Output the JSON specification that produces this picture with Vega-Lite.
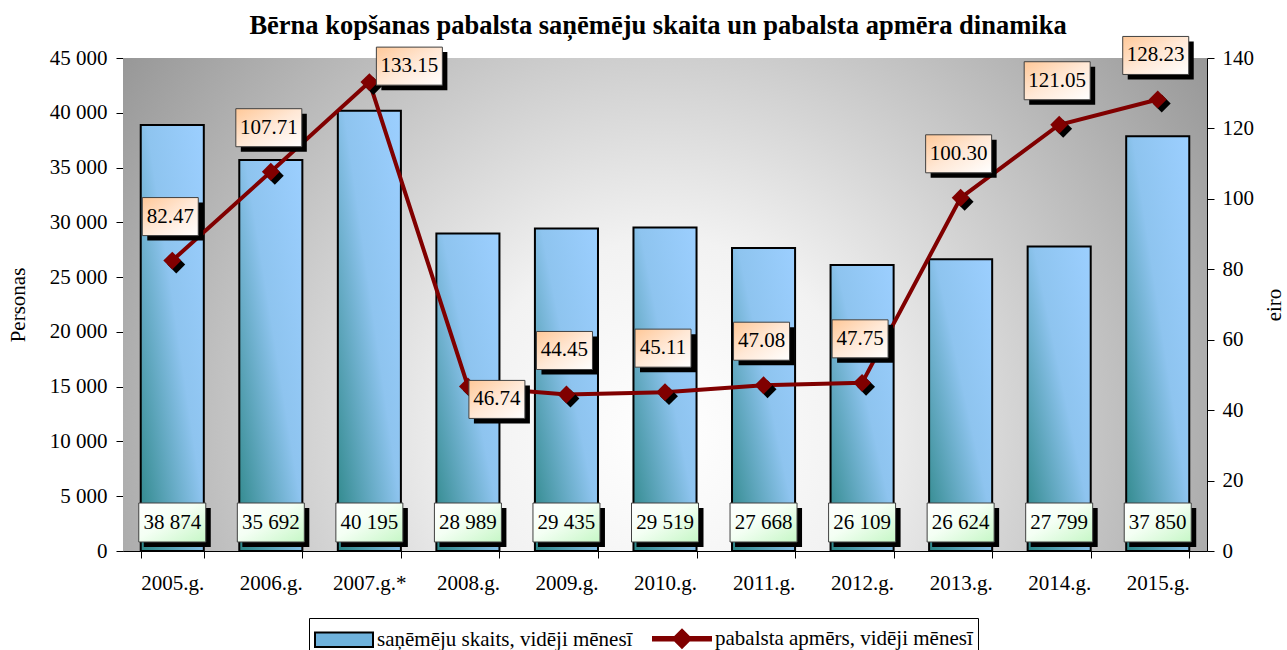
{
  "$schema": "https://vega.github.io/schema/vega-lite/v6.json",
  "width": 1084,
  "height": 493,
  "autosize": {"type": "none"},
  "padding": {"left": 123, "top": 58, "right": 80, "bottom": 99},
  "background": "white",
  "title": {
    "text": "Bērna kopšanas pabalsta saņēmēju skaita un pabalsta apmēra dinamika",
    "font": "Times New Roman, Liberation Serif, serif",
    "fontSize": 26.5,
    "fontWeight": "bold",
    "color": "black",
    "anchor": "middle",
    "frame": "group",
    "offset": 22,
    "dy": 27,
    "dx": -7
  },
  "config": {
    "locale": {"number": {"decimal": ".", "thousands": " ", "grouping": [3], "currency": ["", ""]}},
    "view": {"stroke": null},
    "axis": {
      "labelFont": "Times New Roman, Liberation Serif, serif",
      "labelFontSize": 21,
      "labelColor": "black",
      "titleFont": "Times New Roman, Liberation Serif, serif",
      "titleFontSize": 21,
      "titleFontWeight": "normal",
      "titleColor": "black",
      "domainColor": "black",
      "tickColor": "black",
      "tickSize": 7,
      "grid": false
    },
    "legend": {
      "orient": "none",
      "legendX": 186,
      "legendY": 560,
      "direction": "horizontal",
      "strokeColor": "black",
      "fillColor": "white",
      "padding": 5,
      "symbolSize": 841,
      "symbolStrokeWidth": 2,
      "symbolOpacity": 1,
      "labelFont": "Times New Roman, Liberation Serif, serif",
      "labelFontSize": 21,
      "labelColor": "black",
      "labelLimit": 500,
      "labelOffset": 32,
      "columnPadding": 16
    }
  },
  "datasets": {
    "rows": [
      {"year": "2005.g.", "persons": 38874, "amount": 82.47},
      {"year": "2006.g.", "persons": 35692, "amount": 107.71},
      {"year": "2007.g.*", "persons": 40195, "amount": 133.15},
      {"year": "2008.g.", "persons": 28989, "amount": 46.74},
      {"year": "2009.g.", "persons": 29435, "amount": 44.45},
      {"year": "2010.g.", "persons": 29519, "amount": 45.11},
      {"year": "2011.g.", "persons": 27668, "amount": 47.08},
      {"year": "2012.g.", "persons": 26109, "amount": 47.75},
      {"year": "2013.g.", "persons": 26624, "amount": 100.30},
      {"year": "2014.g.", "persons": 27799, "amount": 121.05},
      {"year": "2015.g.", "persons": 37850, "amount": 128.23}
    ],
    "bg": [{"panel": "plot"}]
  },
  "layer": [
    {
      "data": {"name": "bg"},
      "mark": {
        "type": "rect",
        "fill": {
          "gradient": "radial",
          "x1": 0.5, "y1": 0.62, "r1": 0,
          "x2": 0.5, "y2": 0.62, "r2": 0.72,
          "stops": [
            {"offset": 0, "color": "#ffffff"},
            {"offset": 0.25, "color": "#f2f2f2"},
            {"offset": 1, "color": "#808080"}
          ]
        }
      },
      "encoding": {}
    },
    {
      "data": {"name": "rows"},
      "encoding": {
        "x": {
          "field": "year",
          "type": "nominal",
          "sort": null,
          "scale": {"paddingInner": 0.36, "paddingOuter": 0.18},
          "axis": {"title": null, "labelAngle": 0, "labelPadding": 14, "tickBand": "extent"}
        }
      },
      "layer": [
        {
          "mark": {"type": "point", "opacity": 0},
          "encoding": {
            "y": {"field": "persons", "type": "quantitative"},
            "fill": {
              "datum": "saņēmēju skaits, vidēji mēnesī",
              "scale": {"domain": ["saņēmēju skaits, vidēji mēnesī", "pabalsta apmērs, vidēji mēnesī"], "range": ["#6fb2dc", "#800000"]},
              "legend": {"title": null}
            },
            "stroke": {
              "datum": "saņēmēju skaits, vidēji mēnesī",
              "scale": {"domain": ["saņēmēju skaits, vidēji mēnesī", "pabalsta apmērs, vidēji mēnesī"], "range": ["black", "#800000"]},
              "legend": {"title": null}
            },
            "shape": {
              "datum": "saņēmēju skaits, vidēji mēnesī",
              "scale": {"domain": ["saņēmēju skaits, vidēji mēnesī", "pabalsta apmērs, vidēji mēnesī"], "range": ["M-1,-0.5H3V0.5H-1Z", "M-1,-0.12H0.5L1,-0.62L1.5,-0.12H3V0.12H1.5L1,0.62L0.5,0.12H-1Z"]},
              "legend": {"title": null}
            }
          }
        },
        {
          "mark": {
            "type": "bar",
            "fill": {"gradient": "linear", "x1": 1, "y1": 0, "x2": 0, "y2": 1, "stops": [{"offset": 0, "color": "#9ccfff"}, {"offset": 0.45, "color": "#8ec4ef"}, {"offset": 1, "color": "#2a8585"}]},
            "stroke": "black",
            "strokeWidth": 2
          },
          "encoding": {
            "y": {
              "field": "persons",
              "type": "quantitative",
              "scale": {"domain": [0, 45000], "nice": false},
              "axis": {
                "orient": "left",
                "title": "Personas",
                "values": [0, 5000, 10000, 15000, 20000, 25000, 30000, 35000, 40000, 45000],
                "format": ",d",
                "labelPadding": 9,
                "titlePadding": 21
              }
            }
          }
        },
        {
          "mark": {"type": "point", "shape": "M-1,-0.582H1V0.582H-1Z", "size": 4489, "filled": true, "fill": "black", "opacity": 1, "strokeWidth": 0, "xOffset": 5, "yOffset": -23.5},
          "encoding": {"y": {"datum": 0, "type": "quantitative"}}
        },
        {
          "mark": {
            "type": "point", "shape": "M-1,-0.582H1V0.582H-1Z", "size": 4489, "filled": true, "opacity": 1,
            "fill": {"gradient": "linear", "x1": 0, "y1": 0, "x2": 1, "y2": 1, "stops": [{"offset": 0, "color": "#ffffff"}, {"offset": 0.45, "color": "#f4fff4"}, {"offset": 1, "color": "#c6f7c6"}]},
            "stroke": "#404040", "strokeWidth": 1, "yOffset": -28.5
          },
          "encoding": {"y": {"datum": 0, "type": "quantitative"}}
        },
        {
          "mark": {"type": "text", "font": "Times New Roman, Liberation Serif, serif", "fontSize": 21, "color": "black", "baseline": "middle", "dy": -28.5},
          "encoding": {
            "y": {"datum": 0, "type": "quantitative"},
            "text": {"field": "persons", "type": "quantitative", "format": ",d"}
          }
        }
      ]
    },
    {
      "data": {"name": "rows"},
      "encoding": {
        "x": {"field": "year", "type": "nominal", "sort": null}
      },
      "layer": [
        {
          "mark": {"type": "point", "opacity": 0},
          "encoding": {
            "y": {"field": "amount", "type": "quantitative"},
            "fill": {"datum": "pabalsta apmērs, vidēji mēnesī", "legend": {"title": null}},
            "stroke": {"datum": "pabalsta apmērs, vidēji mēnesī", "legend": {"title": null}},
            "shape": {"datum": "pabalsta apmērs, vidēji mēnesī", "legend": {"title": null}}
          }
        },
        {
          "mark": {"type": "line", "strokeWidth": 4, "color": "#800000"},
          "encoding": {
            "y": {
              "field": "amount",
              "type": "quantitative",
              "scale": {"domain": [0, 140], "nice": false},
              "axis": {
                "orient": "right",
                "title": "eiro",
                "titleAngle": 270,
                "values": [0, 20, 40, 60, 80, 100, 120, 140],
                "format": "d",
                "labelPadding": 8,
                "titlePadding": 31
              }
            }
          }
        },
        {
          "mark": {"type": "point", "shape": "diamond", "size": 320, "filled": true, "fill": "black", "opacity": 1, "strokeWidth": 0, "xOffset": 4, "yOffset": 4},
          "encoding": {"y": {"field": "amount", "type": "quantitative"}}
        },
        {
          "mark": {"type": "point", "shape": "diamond", "size": 320, "filled": true, "fill": "#800000", "opacity": 1, "strokeWidth": 0},
          "encoding": {"y": {"field": "amount", "type": "quantitative"}}
        },
        {
          "transform": [{"filter": "datum.year !== '2007.g.*' && datum.year !== '2008.g.'"}],
          "layer": [
            {
              "mark": {"type": "point", "filled": true, "fill": "black", "opacity": 1, "strokeWidth": 0, "xOffset": 3, "yOffset": -39},
              "encoding": {
                "y": {"field": "amount", "type": "quantitative"},
                "shape": {"condition": {"test": "datum.amount >= 100", "value": "M-1,-0.576H1V0.576H-1Z"}, "value": "M-1,-0.679H1V0.679H-1Z"},
                "size": {"condition": {"test": "datum.amount >= 100", "value": 4356}, "value": 3136}
              }
            },
            {
              "mark": {
                "type": "point", "filled": true, "opacity": 1,
                "fill": {"gradient": "linear", "x1": 0, "y1": 0, "x2": 1, "y2": 1, "stops": [{"offset": 0, "color": "#ffc898"}, {"offset": 0.5, "color": "#ffe8d6"}, {"offset": 1, "color": "#ffffff"}]},
                "stroke": "#404040", "strokeWidth": 1, "xOffset": -2, "yOffset": -44
              },
              "encoding": {
                "y": {"field": "amount", "type": "quantitative"},
                "shape": {"condition": {"test": "datum.amount >= 100", "value": "M-1,-0.576H1V0.576H-1Z"}, "value": "M-1,-0.679H1V0.679H-1Z"},
                "size": {"condition": {"test": "datum.amount >= 100", "value": 4356}, "value": 3136}
              }
            },
            {
              "mark": {"type": "text", "font": "Times New Roman, Liberation Serif, serif", "fontSize": 21, "color": "black", "baseline": "middle", "dx": -2, "dy": -44},
              "encoding": {
                "y": {"field": "amount", "type": "quantitative"},
                "text": {"field": "amount", "type": "quantitative", "format": ".2f"}
              }
            }
          ]
        },
        {
          "transform": [{"filter": "datum.year === '2007.g.*'"}],
          "layer": [
            {
              "mark": {"type": "point", "filled": true, "fill": "black", "opacity": 1, "strokeWidth": 0, "shape": "M-1,-0.576H1V0.576H-1Z", "size": 4356, "xOffset": 45, "yOffset": -11},
              "encoding": {"y": {"field": "amount", "type": "quantitative"}}
            },
            {
              "mark": {
                "type": "point", "filled": true, "opacity": 1, "shape": "M-1,-0.576H1V0.576H-1Z", "size": 4356,
                "fill": {"gradient": "linear", "x1": 0, "y1": 0, "x2": 1, "y2": 1, "stops": [{"offset": 0, "color": "#ffc898"}, {"offset": 0.5, "color": "#ffe8d6"}, {"offset": 1, "color": "#ffffff"}]},
                "stroke": "#404040", "strokeWidth": 1, "xOffset": 40, "yOffset": -16
              },
              "encoding": {"y": {"field": "amount", "type": "quantitative"}}
            },
            {
              "mark": {"type": "text", "font": "Times New Roman, Liberation Serif, serif", "fontSize": 21, "color": "black", "baseline": "middle", "dx": 40, "dy": -16},
              "encoding": {
                "y": {"field": "amount", "type": "quantitative"},
                "text": {"field": "amount", "type": "quantitative", "format": ".2f"}
              }
            }
          ]
        },
        {
          "transform": [{"filter": "datum.year === '2008.g.'"}],
          "layer": [
            {
              "mark": {"type": "point", "filled": true, "fill": "black", "opacity": 1, "strokeWidth": 0, "shape": "M-1,-0.679H1V0.679H-1Z", "size": 3136, "xOffset": 34, "yOffset": 18},
              "encoding": {"y": {"field": "amount", "type": "quantitative"}}
            },
            {
              "mark": {
                "type": "point", "filled": true, "opacity": 1, "shape": "M-1,-0.679H1V0.679H-1Z", "size": 3136,
                "fill": {"gradient": "linear", "x1": 0, "y1": 0, "x2": 1, "y2": 1, "stops": [{"offset": 0, "color": "#ffc898"}, {"offset": 0.5, "color": "#ffe8d6"}, {"offset": 1, "color": "#ffffff"}]},
                "stroke": "#404040", "strokeWidth": 1, "xOffset": 29, "yOffset": 13
              },
              "encoding": {"y": {"field": "amount", "type": "quantitative"}}
            },
            {
              "mark": {"type": "text", "font": "Times New Roman, Liberation Serif, serif", "fontSize": 21, "color": "black", "baseline": "middle", "dx": 29, "dy": 13},
              "encoding": {
                "y": {"field": "amount", "type": "quantitative"},
                "text": {"field": "amount", "type": "quantitative", "format": ".2f"}
              }
            }
          ]
        }
      ]
    }
  ],
  "resolve": {"scale": {"y": "independent"}}
}
